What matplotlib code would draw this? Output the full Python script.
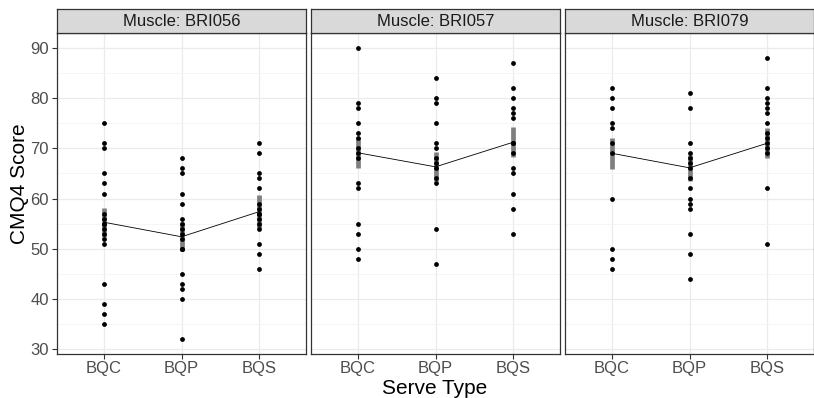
import matplotlib.pyplot as plt
from matplotlib.ticker import MultipleLocator

plt.rcParams["font.family"] = ["Liberation Sans", "DejaVu Sans"]

# Data
muscles = ["BRI056", "BRI057", "BRI079"]
serve_types = ["BQC", "BQP", "BQS"]

# individual scores per muscle, per serve type
bri056_bqc = [75, 71, 70, 65, 63, 61, 57, 56, 55, 55, 54, 53, 52, 51, 43, 39, 37, 35]
bri056_bqp = [68, 66, 65, 61, 59, 56, 55, 54, 53, 52, 50, 50, 45, 43, 42, 40, 32]
bri056_bqs = [71, 69, 65, 64, 62, 59, 58, 57, 57, 56, 55, 54, 51, 49, 46]

bri057_bqc = [90, 79, 78, 75, 73, 72, 70, 69, 68, 63, 62, 55, 53, 50, 48]
bri057_bqp = [84, 80, 79, 75, 71, 70, 68, 67, 66, 64, 63, 54, 47]
bri057_bqs = [87, 82, 80, 78, 77, 76, 71, 71, 69, 66, 65, 61, 58, 53]

bri079_bqc = [82, 80, 78, 75, 74, 71, 69, 60, 50, 48, 46]
bri079_bqp = [81, 78, 71, 69, 68, 67, 66, 64, 62, 60, 59, 58, 53, 49, 44]
bri079_bqs = [88, 82, 80, 79, 78, 77, 75, 73, 72, 71, 70, 69, 62, 51]

# summary line (means) and standard-error half widths
means_056 = [55.3, 52.4, 57.4]
means_057 = [69.1, 66.3, 71.2]
means_079 = [69.0, 66.1, 71.0]
se_056 = [2.9, 2.9, 3.3]
se_057 = [3.0, 2.9, 3.0]
se_079 = [3.1, 2.6, 3.0]

points = [
    [bri056_bqc, bri056_bqp, bri056_bqs],
    [bri057_bqc, bri057_bqp, bri057_bqs],
    [bri079_bqc, bri079_bqp, bri079_bqs],
]
means = [means_056, means_057, means_079]
ses = [se_056, se_057, se_079]

W, H = 814, 398
fig = plt.figure(figsize=(W / 100, H / 100), dpi=100)

lefts = [57, 311, 565]
pw = 249
bottom_px, top_px = 354, 33
strip_h = 24

BORDER = "#333333"
TICK_COL = "#4D4D4D"

for i, m in enumerate(muscles):
    ax = fig.add_axes([lefts[i] / W, (H - bottom_px) / H, pw / W, (bottom_px - top_px) / H])
    xs = list(range(1, len(serve_types) + 1))

    # grid
    ax.yaxis.set_major_locator(MultipleLocator(10))
    ax.yaxis.set_minor_locator(MultipleLocator(5))
    ax.grid(True, which="major", color="#EBEBEB", linewidth=0.9)
    ax.grid(True, which="minor", axis="y", color="#F4F4F4", linewidth=0.6)
    ax.set_axisbelow(True)

    # points
    for x, vals in zip(xs, points[i]):
        ax.scatter([x] * len(vals), vals, s=12, color="black", zorder=3, linewidths=0)

    # mean +/- se bars
    for x, mu, se in zip(xs, means[i], ses[i]):
        ax.plot([x, x], [mu - se, mu + se], color="#7F7F7F", linewidth=3.4,
                solid_capstyle="butt", zorder=2)

    # mean line
    ax.plot(xs, means[i], color="black", linewidth=0.6, zorder=4)

    ax.set_xlim(0.4, 3.6)
    ax.set_ylim(29.1, 92.9)
    ax.set_xticks(xs)
    ax.set_xticklabels(serve_types, fontsize=12, color=TICK_COL)
    ax.tick_params(axis="x", which="major", length=3.5, color=BORDER, width=0.8, pad=1.5)
    ax.tick_params(axis="y", which="major", length=3.5, color=BORDER, width=0.8, pad=2.5)
    ax.tick_params(axis="y", which="minor", length=0)
    if i == 0:
        ax.tick_params(axis="y", labelsize=12, labelcolor=TICK_COL)
    else:
        ax.tick_params(axis="y", which="both", left=False, labelleft=False)

    for sp in ax.spines.values():
        sp.set_color(BORDER)
        sp.set_linewidth(0.9)

    # facet strip
    sax = fig.add_axes([lefts[i] / W, (H - top_px) / H, pw / W, strip_h / H])
    sax.set_facecolor("#D9D9D9")
    sax.set_xticks([])
    sax.set_yticks([])
    for sp in sax.spines.values():
        sp.set_color(BORDER)
        sp.set_linewidth(0.9)
    sax.text(0.5, 0.5, "Muscle: " + m, ha="center", va="center", fontsize=12,
             color="#1A1A1A", transform=sax.transAxes)

fig.text(20 / W, 1 - 184 / H, "CMQ4 Score", rotation=90, ha="center", va="center",
         fontsize=15)
fig.text(435 / W, 1 - 388 / H, "Serve Type", ha="center", va="center", fontsize=15)

fig.savefig("out.png", dpi=100)
